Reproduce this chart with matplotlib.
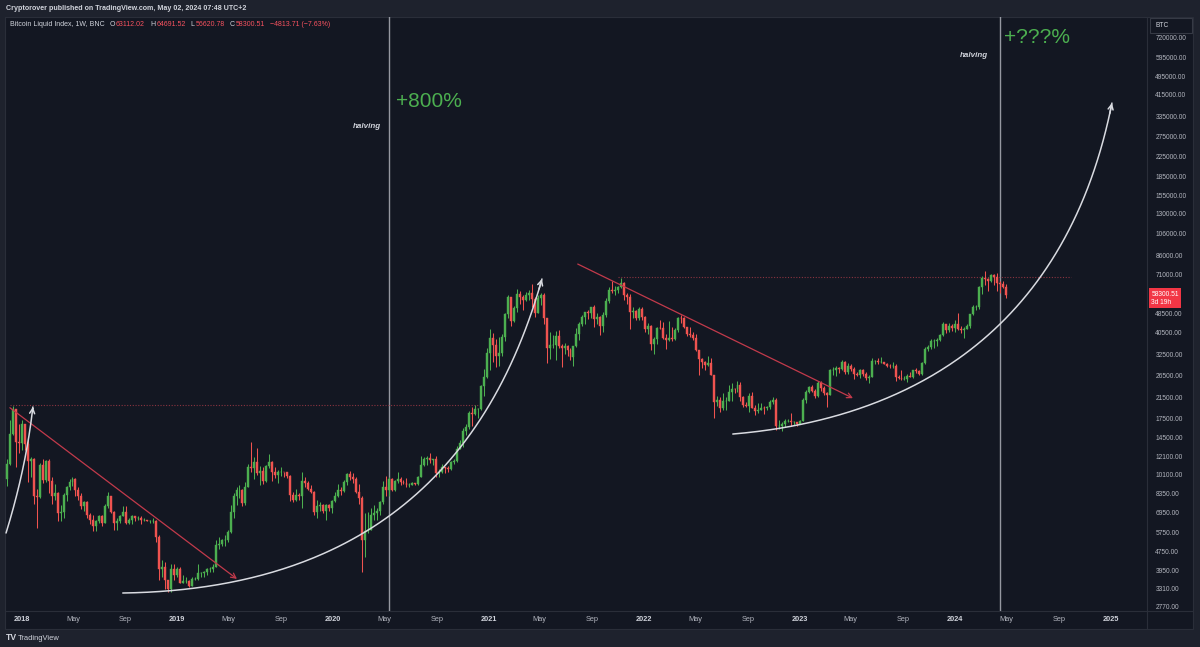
import math
import numpy as np
import pandas as pd
import matplotlib
matplotlib.use("Agg")
import matplotlib.pyplot as plt
import matplotlib.dates as mdates
from matplotlib.patches import Rectangle
from matplotlib.lines import Line2D
from matplotlib.text import Annotation
from matplotlib.ticker import FixedLocator, NullLocator, FuncFormatter

plt.rcParams["font.family"] = ["Liberation Sans", "DejaVu Sans"]

# ---------------- data (weekly candles, thousands of USD) ----------------
first_week = "2017-11-27"
first_open = 9.7

close_2017 = [11.2, 15.0, 19.1, 13.9, 13.8]
high_2017 = [11.8, 17.2, 19.8, 19.2, 16.5]
low_2017 = [9.0, 11.1, 14.9, 10.9, 12.5]

close_2018 = [16.5, 13.6, 11.5, 11.8, 8.2, 8.1, 11.1, 9.6, 11.5, 9.5, 8.2, 8.4, 6.9, 7.0, 8.3, 8.9, 9.4, 9.7,
              8.7, 8.2, 7.4, 7.7, 6.8, 6.5, 6.1, 6.4, 6.7, 6.3, 7.4, 8.2, 7.0, 6.3, 6.4, 6.7, 7.0, 6.3, 6.5,
              6.7, 6.6, 6.6, 6.5, 6.5, 6.4, 6.4, 6.4, 5.5, 4.0, 4.1, 3.6, 3.3, 4.0, 3.8, 4.0]
high_2018 = [17.2, 16.5, 14.3, 12.0, 11.9, 8.8, 11.3, 11.8, 11.6, 11.7, 9.9, 9.2, 8.5, 7.5, 8.4, 9.0, 9.7, 9.9,
             9.8, 8.9, 8.4, 7.8, 7.8, 6.9, 6.8, 6.5, 6.8, 6.8, 7.6, 8.5, 8.2, 7.1, 6.6, 6.8, 7.4, 7.4, 6.6,
             6.8, 6.7, 6.7, 6.7, 6.6, 6.5, 6.5, 6.6, 6.5, 5.6, 4.4, 4.3, 3.6, 4.2, 4.2, 4.1]
low_2018 = [12.8, 12.8, 9.4, 9.9, 7.6, 6.0, 8.0, 9.3, 9.4, 8.4, 7.6, 7.9, 6.4, 6.4, 6.6, 7.8, 8.7, 9.0,
            8.2, 7.9, 7.2, 7.1, 6.6, 6.2, 5.8, 5.8, 6.3, 6.1, 6.3, 7.3, 6.9, 5.9, 5.9, 6.3, 6.7, 6.2, 6.2,
            6.2, 6.4, 6.5, 6.2, 6.4, 6.4, 6.3, 6.3, 5.2, 3.6, 3.7, 3.3, 3.2, 3.2, 3.6, 3.7]

close_2019 = [3.5, 3.55, 3.55, 3.4, 3.65, 3.65, 3.85, 3.85, 3.9, 4.0, 4.0, 4.1, 5.05, 5.1, 5.3, 5.3, 5.75,
              7.0, 8.2, 8.7, 8.7, 7.65, 8.95, 10.85, 10.8, 11.45, 10.2, 10.5, 9.5, 11.0, 11.4, 10.3, 10.1,
              10.4, 10.4, 10.3, 10.0, 8.3, 7.9, 8.3, 8.2, 9.5, 9.3, 8.8, 8.5, 7.0, 7.4, 7.5, 7.1, 7.5, 7.3, 7.8]
high_2019 = [4.1, 3.8, 3.7, 3.6, 3.7, 3.7, 4.2, 3.9, 3.95, 4.05, 4.1, 4.2, 5.3, 5.5, 5.4, 5.6, 5.9,
             7.5, 8.4, 8.9, 9.1, 8.8, 9.4, 11.2, 13.9, 12.0, 13.1, 11.0, 10.9, 11.1, 12.3, 11.5, 10.9,
             10.6, 10.9, 10.4, 10.3, 10.1, 8.5, 8.8, 8.4, 10.4, 9.9, 9.5, 9.1, 8.6, 7.9, 7.7, 7.6, 7.6, 7.6, 7.9]
low_2019 = [3.5, 3.5, 3.5, 3.35, 3.4, 3.6, 3.6, 3.7, 3.7, 3.8, 3.9, 3.9, 4.1, 4.9, 5.0, 5.0, 5.2,
            5.7, 6.6, 7.5, 8.0, 7.4, 7.5, 8.9, 10.3, 9.7, 10.1, 9.1, 9.2, 9.4, 10.8, 9.5, 9.8,
            9.3, 10.0, 9.9, 9.8, 7.8, 7.7, 7.8, 7.9, 7.3, 8.9, 8.7, 8.4, 6.8, 6.6, 7.1, 6.9, 6.5, 7.1, 6.9]

close_2020 = [8.2, 8.7, 8.6, 9.35, 10.15, 9.9, 9.65, 8.55, 8.0, 5.35, 5.8, 5.9, 6.8, 6.9, 7.1, 7.7, 8.9,
              8.7, 9.7, 8.7, 9.45, 9.7, 9.4, 9.3, 9.1, 9.1, 9.3, 9.2, 9.9, 11.1, 11.7, 11.9, 11.65, 11.7,
              10.25, 10.3, 10.9, 10.8, 10.7, 11.4, 11.5, 13.0, 13.7, 15.5, 16.0, 18.4, 18.2, 19.2, 19.2,
              23.9, 26.3, 33.0]
high_2020 = [8.5, 9.2, 8.9, 9.6, 10.2, 10.5, 10.2, 9.9, 9.2, 8.2, 6.9, 7.0, 7.3, 7.5, 7.3, 7.8, 9.5,
             10.0, 9.9, 9.8, 9.6, 10.4, 9.9, 9.6, 9.8, 9.3, 9.4, 9.3, 10.0, 12.1, 12.0, 12.1, 12.5, 11.8,
             12.1, 10.7, 11.2, 10.9, 11.0, 11.5, 11.7, 13.4, 14.1, 15.9, 16.5, 18.8, 19.5, 19.9, 19.4,
             24.3, 28.4, 34.7]
low_2020 = [7.7, 8.1, 8.3, 8.55, 9.1, 9.6, 9.3, 8.4, 7.6, 3.9, 4.5, 5.7, 5.85, 6.5, 6.5, 6.8, 7.6,
            8.2, 8.2, 8.6, 8.6, 9.3, 9.1, 9.2, 8.9, 8.9, 9.1, 9.1, 9.1, 9.85, 11.0, 11.1, 11.3, 11.1,
            9.9, 9.9, 10.2, 10.2, 10.4, 10.6, 11.2, 11.4, 12.9, 13.2, 14.8, 15.8, 16.2, 18.1, 17.6,
            19.0, 21.8, 25.9]

close_2021 = [38.2, 35.8, 32.3, 33.1, 38.9, 48.6, 57.4, 45.2, 51.2, 59.0, 57.5, 55.8, 58.2, 59.8, 56.2,
              49.0, 56.6, 58.2, 46.4, 34.7, 35.7, 35.8, 39.1, 35.5, 34.7, 35.3, 34.2, 31.8, 35.4, 39.9,
              43.8, 47.0, 49.3, 48.8, 51.8, 46.0, 47.2, 43.2, 48.2, 55.0, 61.5, 60.9, 61.3, 63.3, 65.5,
              58.6, 57.3, 49.4, 50.1, 46.7, 50.8, 47.3]
high_2021 = [41.9, 40.1, 37.9, 38.6, 39.7, 49.0, 58.4, 57.5, 52.6, 61.7, 60.6, 58.5, 60.2, 61.2, 64.8,
             57.5, 58.5, 59.5, 59.6, 46.7, 40.8, 39.4, 40.9, 41.3, 36.1, 36.6, 35.9, 34.7, 35.5, 42.3,
             44.7, 48.1, 49.4, 50.5, 52.0, 52.9, 48.9, 47.4, 49.2, 56.6, 62.9, 67.0, 63.7, 64.0, 69.0,
             66.3, 59.4, 59.0, 51.9, 50.4, 52.1, 52.0]
low_2021 = [28.0, 30.4, 28.9, 29.3, 32.3, 37.4, 46.4, 43.0, 44.9, 49.3, 53.3, 50.4, 55.3, 55.5, 52.0,
            47.0, 48.8, 53.0, 43.8, 30.0, 31.2, 34.8, 31.0, 34.8, 28.8, 32.7, 32.1, 31.0, 29.3, 35.2,
            37.5, 43.0, 43.9, 46.2, 46.5, 42.8, 44.0, 39.6, 40.8, 46.9, 53.9, 59.7, 58.1, 59.5, 62.3,
            55.7, 53.3, 42.0, 46.4, 45.5, 45.6, 45.7]

close_2022 = [41.8, 43.1, 36.3, 37.9, 42.4, 42.2, 38.4, 37.7, 38.4, 37.8, 41.3, 46.8, 46.4, 42.8, 39.7,
              39.5, 38.5, 34.0, 31.3, 30.3, 29.4, 29.9, 26.6, 20.6, 21.0, 19.3, 20.8, 20.8, 22.6, 23.3,
              23.2, 24.3, 21.5, 20.0, 19.8, 21.8, 19.4, 18.8, 19.0, 19.4, 19.3, 19.6, 20.6, 21.0, 16.3,
              16.3, 16.5, 17.1, 17.1, 16.8, 16.8, 16.6]
high_2022 = [47.6, 44.4, 43.5, 38.9, 42.7, 45.8, 44.8, 39.8, 45.4, 42.6, 42.3, 47.0, 48.2, 47.0, 42.9,
             42.9, 40.6, 40.0, 34.2, 31.4, 30.6, 32.2, 31.5, 26.8, 21.8, 21.5, 22.4, 21.6, 24.2, 24.7,
             23.6, 25.2, 25.0, 21.8, 20.6, 22.4, 22.7, 19.9, 20.3, 20.4, 19.7, 19.7, 21.0, 21.5, 21.4,
             17.2, 16.8, 17.4, 17.4, 18.4, 17.0, 16.9]
low_2022 = [40.7, 39.7, 34.0, 32.9, 36.3, 41.7, 38.0, 34.3, 37.2, 37.1, 37.6, 40.5, 44.3, 42.1, 39.2,
            38.6, 37.7, 33.7, 26.7, 28.6, 28.0, 29.3, 26.6, 17.6, 19.7, 18.6, 19.0, 18.9, 20.7, 20.7,
            22.4, 22.7, 20.8, 19.6, 19.5, 18.6, 19.3, 18.1, 18.5, 18.9, 18.2, 18.9, 19.2, 20.1, 15.6,
            15.8, 15.5, 16.0, 16.8, 16.3, 16.4, 16.3]

close_2023 = [17.1, 20.9, 22.7, 23.7, 22.9, 21.8, 24.6, 23.5, 22.4, 22.0, 28.0, 28.0, 28.5, 28.3, 30.3,
              27.6, 29.2, 28.4, 26.9, 26.7, 28.1, 27.1, 25.9, 26.3, 30.5, 30.6, 30.2, 30.3, 29.8, 29.3,
              29.1, 29.3, 26.1, 26.0, 25.8, 25.8, 26.5, 26.3, 28.0, 27.9, 26.9, 30.0, 34.5, 35.0, 37.1,
              37.4, 37.5, 39.5, 43.8, 41.4, 43.0, 42.3]
high_2023 = [17.2, 21.4, 23.0, 23.9, 24.2, 23.4, 25.2, 25.2, 23.9, 22.6, 28.4, 28.8, 29.2, 28.8, 31.0,
             30.5, 30.0, 29.8, 28.9, 27.6, 28.4, 28.4, 27.4, 26.8, 31.4, 31.0, 31.5, 31.8, 30.4, 29.9,
             29.7, 30.2, 29.7, 26.8, 28.1, 26.4, 26.9, 27.5, 28.1, 28.6, 28.0, 30.3, 35.2, 35.9, 37.9,
             37.9, 38.4, 39.9, 44.7, 44.0, 44.4, 43.8]
low_2023 = [16.5, 17.0, 20.4, 22.3, 22.6, 21.4, 21.5, 22.8, 21.9, 19.6, 21.9, 26.6, 26.5, 27.3, 28.0,
            27.1, 27.1, 27.7, 25.8, 26.4, 25.9, 26.5, 25.4, 24.8, 26.2, 29.6, 29.8, 29.9, 29.6, 29.0,
            28.6, 28.7, 25.2, 25.8, 25.4, 25.4, 24.9, 26.1, 26.0, 27.2, 26.6, 26.8, 29.8, 33.9, 34.5,
            34.8, 35.6, 37.1, 39.1, 40.2, 40.5, 41.0]

close_2024 = [43.9, 41.7, 41.6, 42.0, 43.0, 48.3, 51.7, 51.7, 63.1, 68.9, 68.4, 67.2, 71.3, 69.4, 65.7,
              64.9, 63.11202, 58.30051]
high_2024 = [45.9, 49.0, 43.2, 42.8, 43.9, 48.6, 52.8, 52.9, 64.0, 70.1, 73.8, 68.9, 71.7, 71.4, 72.7,
             66.9, 67.1, 64.69152]
low_2024 = [40.8, 41.5, 40.3, 38.5, 41.9, 42.3, 48.1, 50.6, 50.9, 59.0, 64.6, 60.8, 66.5, 64.5, 60.6,
            59.6, 62.8, 56.62078]

# y-axis tick values shown on the price scale
price_ticks = [720000, 595000, 495000, 415000, 335000, 275000, 225000, 185000, 155000, 130000, 106000,
               86000, 71000, 48500, 40500, 32500, 26500, 21500, 17500, 14500, 12100, 10100, 8350, 6950,
               5750, 4750, 3950, 3310, 2770]
x_tick_dates = ["2018-01-01", "2018-05-01", "2018-09-01", "2019-01-01", "2019-05-01", "2019-09-01",
                "2020-01-01", "2020-05-01", "2020-09-01", "2021-01-01", "2021-05-01", "2021-09-01",
                "2022-01-01", "2022-05-01", "2022-09-01", "2023-01-01", "2023-05-01", "2023-09-01",
                "2024-01-01", "2024-05-01", "2024-09-01", "2025-01-01"]
x_tick_labels = ["2018", "May", "Sep", "2019", "May", "Sep", "2020", "May", "Sep", "2021", "May", "Sep",
                 "2022", "May", "Sep", "2023", "May", "Sep", "2024", "May", "Sep", "2025"]

# drawings (date, price)
halving_dates = ["2020-05-11", "2024-04-15"]
level_lines = [("2017-12-04", "2020-12-06", 20000), ("2021-10-31", "2024-09-30", 69600)]
trend_lines = [("2017-12-04", 19400, "2019-05-21", 3640), ("2021-07-29", 79000, "2023-05-06", 21300)]
curve_1 = [("2017-11-25", 5702), ("2018-01-11", 10760), ("2018-01-27", 19540)]
curve_2 = [("2018-08-26", 3172), ("2019-12-25", 3266), ("2020-12-11", 7870), ("2021-05-06", 68270)]
curve_3 = [("2022-07-28", 15000), ("2023-08-24", 17200), ("2024-09-14", 37600), ("2025-01-03", 381000)]
notes = [("+800%", "2020-08-13", 388700), ("+???%", "2024-07-11", 726000)]
halving_notes = [("halving", "2020-03-21", 304400), ("halving", "2024-02-14", 609000)]

# legend strings
legend_parts = [("Bitcoin Liquid Index, 1W, BNC", "t", 0), ("O", "t", 3.5), ("63112.02", "r", 0.8),
                ("H", "t", 3.5), ("64691.52", "r", 0.8), ("L", "t", 3.5), ("56620.78", "r", 0.8),
                ("C", "t", 3.5), ("58300.51", "r", 0.8), ("\u22124813.71 (\u22127.63%)", "r", 3.5)]

# ---------------- assemble ----------------
closes = np.array(close_2017 + close_2018 + close_2019 + close_2020 + close_2021 + close_2022 + close_2023 + close_2024) * 1000
highs = np.array(high_2017 + high_2018 + high_2019 + high_2020 + high_2021 + high_2022 + high_2023 + high_2024) * 1000
lows = np.array(low_2017 + low_2018 + low_2019 + low_2020 + low_2021 + low_2022 + low_2023 + low_2024) * 1000
opens = np.concatenate([[first_open * 1000], closes[:-1]])
highs = np.maximum(highs, np.maximum(opens, closes))
lows = np.minimum(lows, np.minimum(opens, closes))
dates = pd.date_range(first_week, periods=len(closes), freq="W-MON")
xs = mdates.date2num(dates.to_pydatetime())

W, H = 1200, 647
BG = "#131722"
OUTER = "#1e222d"
BORDER = "#2a2e39"
UP = "#4caf50"
DOWN = "#ef5350"
TXT = "#d1d4dc"
TXT2 = "#b2b5be"
RED = "#f7525f"


def fx(px):
    return px / W


def fy(py):
    return 1 - py / H


def dn(s):
    return mdates.date2num(pd.Timestamp(s).to_pydatetime())


fig = plt.figure(figsize=(12, 6.47), dpi=100, facecolor=OUTER)
fig.patches.append(Rectangle((fx(5), fy(629)), fx(1193) - fx(5), fy(17) - fy(629),
                             transform=fig.transFigure, facecolor=BG, edgecolor=BORDER, lw=0.8, zorder=-10))

ax = fig.add_axes([fx(5), fy(611), fx(1147) - fx(5), fy(17) - fy(611)])
ax.set_zorder(1)
ax.patch.set_alpha(0)
for s in ax.spines.values():
    s.set_visible(False)
ax.set_yscale("log")
base = dn("2018-01-01")
ax.set_xlim(base - 39.44, base + 2641.3)
ax.set_ylim(2660.5, 883500)

fig.add_artist(Line2D([fx(1147), fx(1147)], [fy(17), fy(629)], transform=fig.transFigure,
                      color=BORDER, lw=0.8, zorder=-5))
fig.add_artist(Line2D([fx(5), fx(1193)], [fy(611), fy(611)], transform=fig.transFigure,
                      color=BORDER, lw=0.8, zorder=-5))

# candles
up = closes >= opens
cols = np.where(up, UP, DOWN)
ax.vlines(xs, lows, highs, colors=cols, lw=0.75, zorder=3)
bottoms = np.minimum(opens, closes)
heights = np.abs(closes - opens)
ax.bar(xs, heights, bottom=bottoms, width=4.6, color=cols, edgecolor=cols, lw=0.3, zorder=4)

# ticks
ax.yaxis.tick_right()
ax.yaxis.set_major_locator(FixedLocator(price_ticks))
ax.yaxis.set_minor_locator(NullLocator())
ax.yaxis.set_major_formatter(FuncFormatter(lambda v, p: f"{v:.2f}"))
ax.tick_params(axis="y", length=0, pad=6, labelsize=4.8, labelcolor=TXT2)
ax.set_xticks([dn(d) for d in x_tick_dates])
ax.set_xticklabels(x_tick_labels)
ax.tick_params(axis="x", length=0, pad=3.5, labelsize=5.3, labelcolor=TXT2)
for lab in ax.get_xticklabels():
    if lab.get_text().isdigit():
        lab.set_fontweight("bold")
        lab.set_color(TXT)

# halving lines
for d in halving_dates:
    ax.axvline(dn(d), color="#9598a1", lw=1.0, zorder=2)

# level lines
for d0, d1, p in level_lines:
    ax.hlines(p, dn(d0), dn(d1), color="#8a3440", lw=0.8, linestyles=(0, (1, 1.5)), zorder=2)

# trend lines
for d0, p0, d1, p1 in trend_lines:
    ax.annotate("", xy=(dn(d1), p1), xytext=(dn(d0), p0),
                arrowprops=dict(arrowstyle="->,head_length=0.35,head_width=0.18", color="#c23a4b", lw=0.9,
                                shrinkA=0, shrinkB=0), zorder=5)


def bezier(pts, n=200):
    t = np.linspace(0, 1, n)
    k = len(pts) - 1
    xx = np.zeros(n)
    yy = np.zeros(n)
    for i, (d, p) in enumerate(pts):
        b = math.comb(k, i) * t ** i * (1 - t) ** (k - i)
        xx += b * dn(d)
        yy += b * np.log10(p)
    return xx, 10 ** yy


for cv in (curve_1, curve_2, curve_3):
    cx, cy = bezier(cv)
    ax.plot(cx, cy, color="#d9dbe1", lw=1.1, zorder=6, solid_capstyle="round")
    ax.annotate("", xy=(cx[-1], cy[-1]), xytext=(cx[-4], cy[-4]),
                arrowprops=dict(arrowstyle="->,head_length=0.35,head_width=0.18", color="#d9dbe1", lw=1.1,
                                shrinkA=0, shrinkB=0), zorder=6)

for txt, d, p in notes:
    ax.text(dn(d), p, txt, color="#4caf50", fontsize=15, ha="center", va="center", zorder=7)
for txt, d, p in halving_notes:
    ax.text(dn(d), p, txt, color=TXT, fontsize=5.8, ha="center", va="center", style="italic",
            fontweight="bold", zorder=7)

# last price label
ax.annotate("58300.51\n3d 19h", xy=(1.0, closes[-1]), xycoords=ax.get_yaxis_transform(),
            xytext=(3.2, -2.2), textcoords="offset points", ha="left", va="center", fontsize=4.8,
            color="white", linespacing=1.15,
            bbox=dict(boxstyle="square,pad=0.35", fc="#f23645", ec="none"), annotation_clip=False, zorder=10)

# BTC box
fig.patches.append(Rectangle((fx(1150), fy(33)), fx(1192) - fx(1150), fy(18) - fy(33),
                             transform=fig.transFigure, facecolor=BG, edgecolor="#363a45", lw=0.8, zorder=5))
fig.text(fx(1155), fy(25.5), "BTC", fontsize=4.8, color=TXT, ha="left", va="center", zorder=6)

# header
fig.text(fx(6), fy(8.5), "Cryptorover published on TradingView.com, May 02, 2024 07:48 UTC+2",
         fontsize=5.1, color=TXT, ha="left", va="center", fontweight="bold")

# legend line (chained pieces)
prev = fig.text(fx(10), fy(28.5), legend_parts[0][0], fontsize=5.0, color=TXT, ha="left",
                va="bottom", zorder=6)
for s, kind, gap in legend_parts[1:]:
    prev = fig.add_artist(Annotation(s, xy=(1, 0), xycoords=prev, xytext=(gap, 0),
                                     textcoords="offset points", fontsize=5.0,
                                     color=TXT if kind == "t" else RED,
                                     ha="left", va="bottom", annotation_clip=False, zorder=6))

# TradingView logo
fig.text(fx(6), fy(638), "TV", fontsize=6.2, color=TXT, fontweight="bold", ha="left", va="center")
fig.text(fx(18), fy(638), "TradingView", fontsize=5.4, color=TXT, ha="left", va="center")

fig.savefig("out.png", dpi=100, facecolor=OUTER)
